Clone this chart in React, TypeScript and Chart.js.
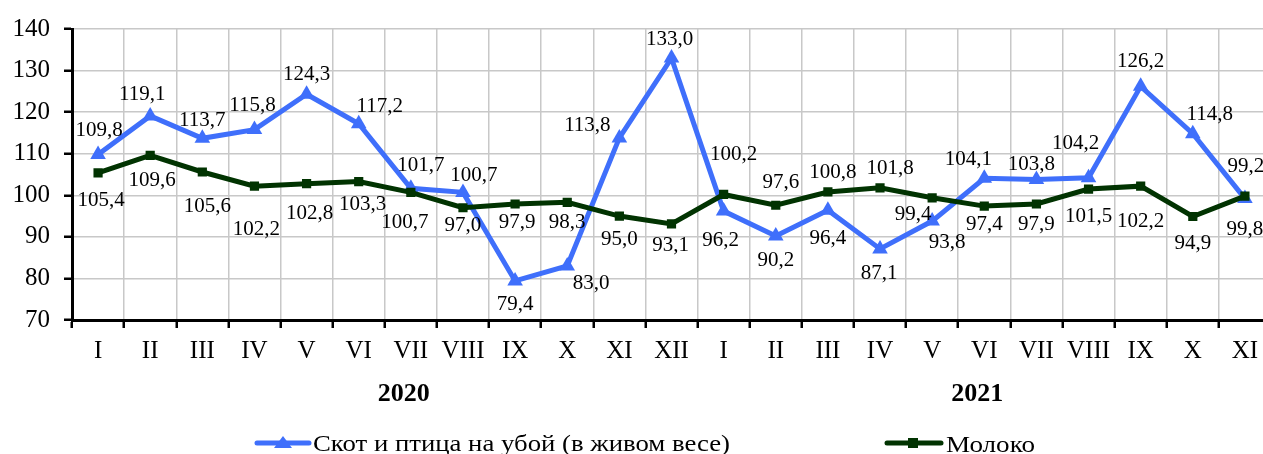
import React, { useEffect, useRef } from 'react';
import { Chart, registerables } from 'chart.js';

Chart.register(...registerables);

const categories = ['I', 'II', 'III', 'IV', 'V', 'VI', 'VII', 'VIII', 'IX', 'X', 'XI', 'XII', 'I', 'II', 'III', 'IV', 'V', 'VI', 'VII', 'VIII', 'IX', 'X', 'XI'];
const yearLabels = ['2020', '2021'];
const yearAnchorIndex = [6, 17];
const seriesNames = ['Скот и птица на убой (в живом весе)', 'Молоко'];

const livestock = [109.8, 119.1, 113.7, 115.8, 124.3, 117.2, 101.7, 100.7, 79.4, 83.0, 113.8, 133.0, 96.2, 90.2, 96.4, 87.1, 93.8, 104.1, 103.8, 104.2, 126.2, 114.8, 99.2];
const milk = [105.4, 109.6, 105.6, 102.2, 102.8, 103.3, 100.7, 97.0, 97.9, 98.3, 95.0, 93.1, 100.2, 97.6, 100.8, 101.8, 99.4, 97.4, 97.9, 101.5, 102.2, 94.9, 99.8];

// label placement (dx, dy) relative to the point
const livestockLabelOffsets = [[1, -26], [-8, -23], [0, -19], [-2, -26], [0, -21], [21, -19], [10, -24], [11, -18], [0, 22], [24, 16], [-32, -14], [-2, -20], [-3, 28], [0, 23], [0, 27], [-1, 23], [15, 20], [-16, -20], [-5, -16], [-13, -36], [0, -26], [17, -21], [1, -34]];
const milkLabelOffsets = [[3, 26], [2, 24], [5, 33], [2, 42], [3, 28], [4, 21], [-6, 29], [0, 16], [2, 17], [0, 19], [0, 22], [-1, 20], [10, -41], [5, -24], [5, -21], [10, -21], [-19, 15], [0, 17], [0, 19], [0, 26], [0, 34], [0, 26], [0, 32]];

const BLUE = '#3f6ffb';
const GREEN = '#013301';
const FONT = "'Liberation Serif', 'Times New Roman', serif";

const fmt = (v: number) => v.toFixed(1).replace('.', ',');

const labelsPlugin = {
  id: 'customLabels',
  afterDatasetsDraw(chart: any) {
    const ctx = chart.ctx;
    ctx.save();
    ctx.font = `21px ${FONT}`;
    ctx.fillStyle = '#000';
    ctx.textAlign = 'center';
    ctx.textBaseline = 'alphabetic';
    const offsetsByDataset = [milkLabelOffsets, livestockLabelOffsets];
    chart.data.datasets.forEach((ds: any, di: number) => {
      const meta = chart.getDatasetMeta(di);
      const offs = offsetsByDataset[di];
      meta.data.forEach((pt: any, i: number) => {
        const [dx, dy] = offs[i];
        ctx.fillText(fmt(ds.data[i]), pt.x + dx, pt.y + dy + 7);
      });
    });
    ctx.restore();
  },
  afterDraw(chart: any) {
    const ctx = chart.ctx;
    const xs = chart.scales.x;
    ctx.save();
    // year labels
    ctx.font = `bold 26px ${FONT}`;
    ctx.fillStyle = '#000';
    ctx.textAlign = 'center';
    ctx.textBaseline = 'alphabetic';
    yearLabels.forEach((t, i) => {
      ctx.fillText(t, xs.getPixelForValue(yearAnchorIndex[i]) - 7, 401);
    });
    // legend
    const drawText = (t: string, x: number, y: number, w: number) => {
      ctx.font = `23px ${FONT}`;
      ctx.textAlign = 'left';
      const m = ctx.measureText(t).width;
      ctx.save();
      ctx.translate(x, y);
      ctx.scale(w / m, 1);
      ctx.fillText(t, 0, 0);
      ctx.restore();
    };
    const ly = 443;
    // blue
    ctx.strokeStyle = BLUE;
    ctx.lineWidth = 5;
    ctx.lineCap = 'round';
    ctx.beginPath();
    ctx.moveTo(257, ly);
    ctx.lineTo(309, ly);
    ctx.stroke();
    ctx.fillStyle = BLUE;
    ctx.beginPath();
    ctx.moveTo(283, ly - 7);
    ctx.lineTo(292, ly + 5);
    ctx.lineTo(274, ly + 5);
    ctx.closePath();
    ctx.fill();
    ctx.fillStyle = '#000';
    drawText(seriesNames[0], 313, 451, 417);
    // green
    ctx.strokeStyle = GREEN;
    ctx.beginPath();
    ctx.moveTo(887, ly);
    ctx.lineTo(941, ly);
    ctx.stroke();
    ctx.fillStyle = GREEN;
    ctx.fillRect(908, ly - 5, 10, 10);
    ctx.fillStyle = '#000';
    drawText(seriesNames[1], 946, 452, 89);
    ctx.restore();
  },
};

export default function App() {
  const ref = useRef<HTMLCanvasElement>(null);
  useEffect(() => {
    if (!ref.current) return;
    const chart = new Chart(ref.current, {
      type: 'line',
      data: {
        labels: categories,
        datasets: [
          {
            label: seriesNames[1],
            data: milk,
            borderColor: GREEN,
            backgroundColor: GREEN,
            borderWidth: 5,
            pointStyle: 'rect',
            pointRadius: 6.5,
            pointBorderWidth: 0,
            tension: 0,
            order: 0,
          },
          {
            label: seriesNames[0],
            data: livestock,
            borderColor: BLUE,
            backgroundColor: BLUE,
            borderWidth: 5,
            pointStyle: 'triangle',
            pointRadius: 9,
            pointBorderWidth: 0,
            tension: 0,
            order: 1,
          },
        ],
      },
      options: {
        responsive: false,
        animation: false,
        devicePixelRatio: 1,
        layout: { padding: { top: 24, right: 19, left: 0, bottom: 0 } },
        plugins: { legend: { display: false }, tooltip: { enabled: false } },
        scales: {
          x: {
            offset: true,
            grid: { offset: true, color: '#c8c8c8', lineWidth: 1.5, tickLength: 8, tickColor: '#000', tickWidth: 2.5 },
            border: { color: '#000', width: 3 },
            ticks: { font: { family: FONT, size: 25 }, color: '#000', padding: 8, maxRotation: 0, autoSkip: false },
            afterFit: (s: any) => { s.height = 134; },
          },
          y: {
            min: 70,
            max: 140,
            grid: { color: '#c8c8c8', lineWidth: 1.5, tickLength: 8, tickColor: '#000', tickWidth: 2.5 },
            border: { color: '#000', width: 3 },
            ticks: { stepSize: 10, font: { family: FONT, size: 25 }, color: '#000', padding: 14 },
            afterFit: (s: any) => { s.width = 72; },
          },
        },
      },
      plugins: [labelsPlugin],
    });
    return () => chart.destroy();
  }, []);
  return (
    <div style={{ position: 'absolute', left: 0, top: 0, width: 1263, height: 454, overflow: 'hidden', background: '#fff' }}>
      <canvas ref={ref} width={1290} height={454} style={{ display: 'block' }} />
    </div>
  );
}
